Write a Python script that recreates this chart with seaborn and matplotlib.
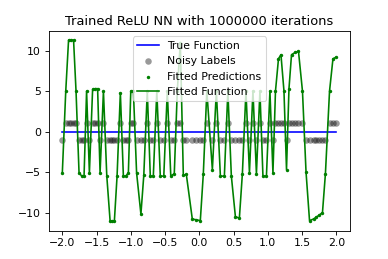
import numpy as np
import matplotlib
matplotlib.use('Agg')
import matplotlib.pyplot as plt
import seaborn as sns

# Sample positions (x in data units)
x_pts = [-2.000, -1.950, -1.909, -1.873, -1.836, -1.800, -1.756, -1.716, -1.683,
         -1.646, -1.605, -1.558, -1.519, -1.485, -1.449, -1.400, -1.351, -1.303,
         -1.274, -1.240, -1.201, -1.153, -1.109, -1.074, -1.036, -1.001, -0.963,
         -0.916, -0.853, -0.811, -0.760, -0.716, -0.672, -0.621, -0.570, -0.519,
         -0.468, -0.417, -0.366, -0.322, -0.278, -0.234, -0.190, -0.103, -0.044,
         0.014, 0.058, 0.109, 0.190, 0.248, 0.307, 0.365, 0.416, 0.467, 0.526,
         0.584, 0.628, 0.680, 0.731, 0.782, 0.833, 0.884, 0.928, 0.979, 1.030,
         1.074, 1.111, 1.155, 1.191, 1.235, 1.272, 1.308, 1.345, 1.403, 1.447,
         1.505, 1.557, 1.608, 1.666, 1.702, 1.753, 1.797, 1.840, 1.900, 1.950, 2.000]

# Fitted predictions of the trained network at those points
y_pred = [-5.1, 5.0, 11.3, 11.3, 11.3, 5.0, -5.1, -5.5, -5.5, 5.0, -5.1, 5.2,
          5.3, 5.3, -5.1, 5.0, -5.5, -11.0, -11.1, -11.0, -5.5, 4.8, -5.5, -5.5,
          -5.1, 5.0, 5.0, -5.1, -10.2, -5.4, 5.0, -5.5, -5.5, 5.0, -5.5, -5.5,
          5.0, -5.5, -5.2, 5.0, 11.0, -5.4, -5.3, -10.8, -10.9, -11.0, -5.2, 5.0,
          -4.7, 5.0, -5.5, -5.5, 5.0, -5.5, -10.5, -10.7, -5.2, 5.0, -5.1, 5.0,
          -5.2, 5.0, -5.5, -5.5, 5.0, -5.1, 5.0, 9.0, 9.5, 5.0, -4.7, 5.3, 9.5,
          9.8, 9.9, 5.0, -5.0, -11.0, -10.8, -10.6, -10.3, -10.0, -5.2, 5.0, 9.0, 9.2]

# Noisy +/-1 labels
y_label = [-1, 1, 1, 1, 1, 1, -1, -1, -1, 1, -1, 1, 1, 1, -1, 1, -1, -1, -1, -1,
           -1, 1, -1, -1, -1, 1, 1, -1, -1, -1, 1, -1, -1, 1, -1, -1, 1, -1, -1,
           1, 1, -1, -1, -1, -1, -1, -1, 1, -1, 1, -1, -1, 1, -1, -1, -1, -1, 1,
           -1, 1, -1, 1, -1, -1, 1, -1, 1, 1, 1, 1, -1, 1, 1, 1, 1, 1, -1, -1, -1,
           -1, -1, -1, -1, 1, 1, 1]

# True function is zero everywhere
y_true = [0.0] * len(x_pts)

fig, ax = plt.subplots(figsize=(4.987, 3.321), dpi=78)

sns.lineplot(x=x_pts, y=y_true, color='blue', label='True Function', ax=ax)
sns.scatterplot(x=x_pts, y=y_label, color='k', alpha=0.4, s=36, linewidth=0,
                label='Noisy Labels', ax=ax)
sns.scatterplot(x=x_pts, y=y_pred, color='green', s=10, linewidth=0,
                label='Fitted Predictions', ax=ax)
sns.lineplot(x=x_pts, y=y_pred, color='green', label='Fitted Function', ax=ax)

ax.set_title('Trained ReLU NN with 1000000 iterations')
ax.legend(loc='upper center')

fig.savefig('out.png', dpi=78)
